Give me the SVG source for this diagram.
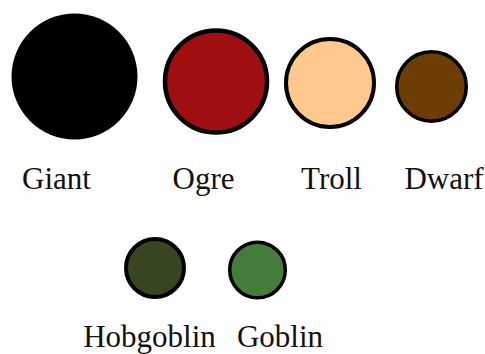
<svg xmlns="http://www.w3.org/2000/svg" width="485" height="354" viewBox="0 0 485 354">
<style>
.n circle{stroke:#000}
.lbl{font-family:"Liberation Serif","Times New Roman",serif;font-size:31px;fill:#111;text-anchor:middle}
</style>
<rect width="485" height="354" fill="#fff"/>
<g id="giant" class="n"><circle cx="74.5" cy="76.5" r="63" fill="#000" stroke-width="0"/><text class="lbl" x="56.5" y="189">Giant</text></g>
<g id="ogre" class="n"><circle cx="216" cy="81.5" r="51" fill="#a00f0f" stroke-width="4.5"/><text class="lbl" x="203.5" y="189">Ogre</text></g>
<g id="troll" class="n"><circle cx="330" cy="83" r="44" fill="#ffc88c" stroke-width="4"/><text class="lbl" x="331.5" y="189">Troll</text></g>
<g id="dwarf" class="n"><circle cx="431.5" cy="86.5" r="34.8" fill="#6e3c05" stroke-width="3.5"/><text class="lbl" x="444" y="189">Dwarf</text></g>
<g id="hobgoblin" class="n"><circle cx="155" cy="268" r="29" fill="#374520" stroke-width="4"/><text class="lbl" x="149.5" y="346.5">Hobgoblin</text></g>
<g id="goblin" class="n"><circle cx="257.5" cy="270" r="27.8" fill="#447d3a" stroke-width="3.5"/><text class="lbl" x="280" y="346.5">Goblin</text></g>
<g id="connectors"/>
</svg>
